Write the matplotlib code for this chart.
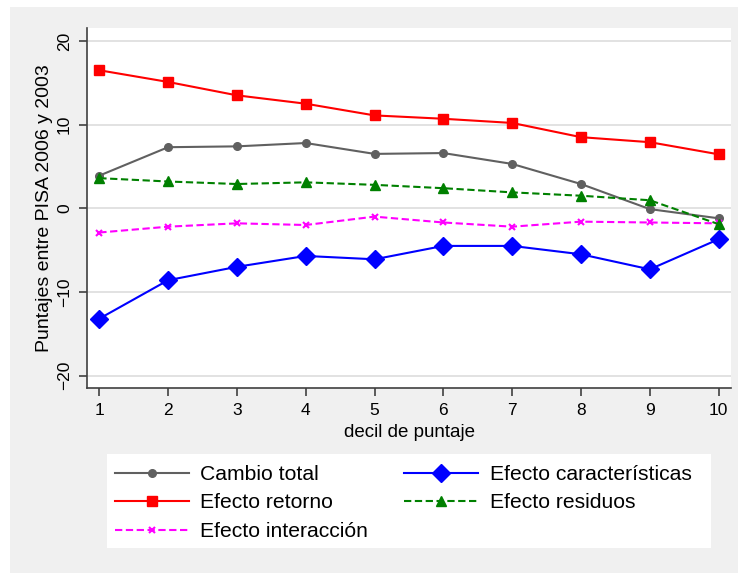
import numpy as np
import matplotlib
matplotlib.use("Agg")
import matplotlib.pyplot as plt
from matplotlib.patches import Rectangle

plt.rcParams['font.family'] = ['Liberation Sans', 'DejaVu Sans']

decil = np.arange(1, 11)
cambio_total = [3.9, 7.3, 7.4, 7.8, 6.5, 6.6, 5.3, 2.9, -0.1, -1.2]
efecto_retorno = [16.5, 15.1, 13.5, 12.5, 11.1, 10.7, 10.2, 8.5, 7.9, 6.45]
efecto_interaccion = [-2.9, -2.2, -1.8, -2.0, -1.0, -1.7, -2.2, -1.6, -1.7, -1.8]
efecto_caract = [-13.2, -8.6, -7.0, -5.7, -6.1, -4.5, -4.5, -5.5, -7.3, -3.7]
efecto_residuos = [3.6, 3.2, 2.9, 3.1, 2.8, 2.4, 1.9, 1.5, 0.96, -1.9]

W, H = 738, 573
fig = plt.figure(figsize=(W / 100, H / 100), dpi=100, facecolor='white')
# grey Stata-like background, white strip on top and left
fig.add_artist(Rectangle((10 / W, 0), 1 - 10 / W, 1 - 7 / H,
                         transform=fig.transFigure, facecolor='#f0f0f0',
                         edgecolor='none', zorder=-2))
# legend box
fig.add_artist(Rectangle((106.7 / W, 1 - 548 / H), (710.7 - 106.7) / W, 94 / H,
                         transform=fig.transFigure, facecolor='white',
                         edgecolor='none', zorder=-1))

ax = fig.add_axes([87.3 / W, 1 - 387.7 / H, (731 - 87.3) / W, (387.7 - 28) / H])
ax.set_facecolor('white')

dash = (3.5, 1.7)
lw = 1.5
l1, = ax.plot(decil, cambio_total, color='#606060', lw=lw, marker='o', ms=5.5, zorder=3)
l2, = ax.plot(decil, efecto_retorno, color='#ff0000', lw=lw, marker='s', ms=7.5, zorder=3)
l3, = ax.plot(decil, efecto_interaccion, color='#ff00ff', lw=lw, dashes=dash,
              marker='x', ms=4.5, mew=1.5, zorder=3)
l4, = ax.plot(decil, efecto_caract, color='#0000ff', lw=lw, marker='D', ms=9, zorder=3)
l5, = ax.plot(decil, efecto_residuos, color='#008000', lw=lw, dashes=dash,
              marker='^', ms=7.5, zorder=3)

ax.set_xlim(0.826, 10.18)
ax.set_ylim(-21.45, 21.55)
ax.set_xticks(decil)
ax.set_yticks([-20, -10, 0, 10, 20])
ax.yaxis.grid(True, color='#e2e2e2', lw=1.4)
ax.set_axisbelow(True)

for s in ['top', 'right']:
    ax.spines[s].set_visible(False)
for s in ['left', 'bottom']:
    ax.spines[s].set_color('#404040')
    ax.spines[s].set_linewidth(1.2)

ax.tick_params(axis='both', direction='out', length=6, width=1.2, color='#404040',
               labelsize=12.5)
ax.tick_params(axis='x', pad=5)
ax.tick_params(axis='y', pad=5)
for t in ax.get_yticklabels():
    t.set_rotation(90)
    t.set_va('center')

ax.set_xlabel('decil de puntaje', fontsize=13.5, labelpad=4)
ax.set_ylabel('Puntajes entre PISA 2006 y 2003', fontsize=14, labelpad=3)

fig.legend([l1, l2, l3, l4, l5],
           ['Cambio total', 'Efecto retorno', 'Efecto interacción',
            'Efecto características', 'Efecto residuos'],
           ncol=2, loc='upper left', bbox_to_anchor=(115 / W, 1 - 465 / H),
           frameon=False, borderpad=0, borderaxespad=0, fontsize=15.2,
           handlelength=3.5, handletextpad=0.55, columnspacing=1.7,
           labelspacing=0.45)

fig.savefig('out.png', dpi=100, facecolor=fig.get_facecolor())
